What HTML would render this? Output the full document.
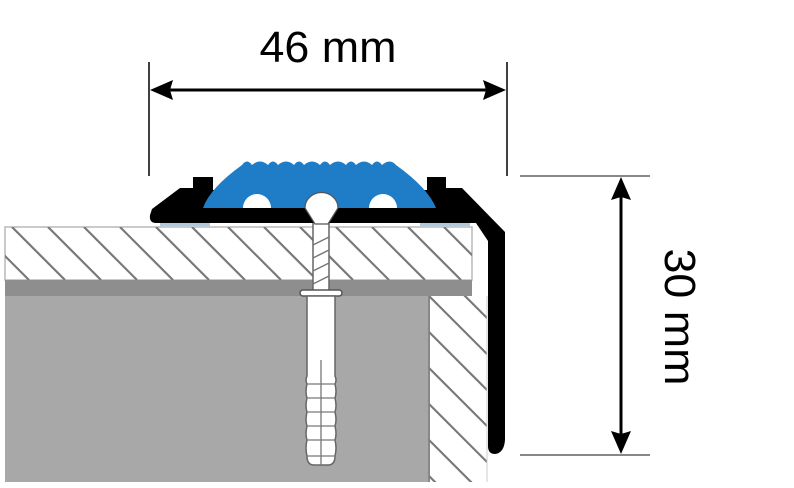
<!DOCTYPE html>
<html><head><meta charset="utf-8"><style>
html,body{margin:0;padding:0;background:#fff;width:794px;height:488px;overflow:hidden;}
svg{display:block;}
text{font-family:"Liberation Sans",sans-serif;fill:#000;}
</style></head><body>
<svg width="794" height="488" viewBox="0 0 794 488" xmlns="http://www.w3.org/2000/svg">
<defs>
<clipPath id="cb"><rect x="5" y="227" width="467" height="53"/></clipPath>
<clipPath id="cr"><rect x="429" y="296" width="58" height="186"/></clipPath>
</defs>
<rect x="5" y="227" width="467" height="53" fill="#fff" stroke="#b8b8b8" stroke-width="1.5"/>
<g clip-path="url(#cb)" stroke="#7a7a7a" stroke-width="2.2">
<line x1="-60" y1="227" x2="-7" y2="280"/>
<line x1="-24" y1="227" x2="29" y2="280"/>
<line x1="12" y1="227" x2="65" y2="280"/>
<line x1="48" y1="227" x2="101" y2="280"/>
<line x1="84" y1="227" x2="137" y2="280"/>
<line x1="120" y1="227" x2="173" y2="280"/>
<line x1="156" y1="227" x2="209" y2="280"/>
<line x1="192" y1="227" x2="245" y2="280"/>
<line x1="228" y1="227" x2="281" y2="280"/>
<line x1="264" y1="227" x2="317" y2="280"/>
<line x1="300" y1="227" x2="353" y2="280"/>
<line x1="336" y1="227" x2="389" y2="280"/>
<line x1="372" y1="227" x2="425" y2="280"/>
<line x1="408" y1="227" x2="461" y2="280"/>
<line x1="444" y1="227" x2="497" y2="280"/>
</g>
<rect x="5" y="280" width="467" height="16" fill="#8e8e8e"/>
<rect x="5" y="296" width="424" height="186" fill="#a8a8a8"/>
<rect x="429" y="296" width="58" height="186" fill="#fff"/>
<line x1="429" y1="296" x2="429" y2="482" stroke="#888" stroke-width="2"/>
<g clip-path="url(#cr)" stroke="#7a7a7a" stroke-width="2.2">
<line x1="429" y1="260" x2="520" y2="351"/>
<line x1="429" y1="296" x2="520" y2="387"/>
<line x1="429" y1="332" x2="520" y2="423"/>
<line x1="429" y1="368" x2="520" y2="459"/>
<line x1="429" y1="404" x2="520" y2="495"/>
<line x1="429" y1="440" x2="520" y2="531"/>
<line x1="429" y1="476" x2="520" y2="567"/>
</g>
<line x1="487" y1="296" x2="487" y2="482" stroke="#ccc" stroke-width="1"/>
<rect x="160" y="222" width="50" height="4" fill="#a9cbe6"/>
<rect x="420" y="222" width="50" height="4" fill="#a9cbe6"/>
<rect x="313" y="222" width="16" height="70" fill="#fff" stroke="#666" stroke-width="1.5"/>
<g stroke="#777" stroke-width="1.5">
<line x1="313" y1="245" x2="329" y2="237"/><line x1="313" y1="258" x2="329" y2="250"/>
<line x1="313" y1="271" x2="329" y2="263"/><line x1="313" y1="284" x2="329" y2="276"/>
</g>
<rect x="300" y="290" width="42" height="6" rx="3" fill="#fff" stroke="#555" stroke-width="1.5"/>
<path d="M307 296 H335 V376 Q337 380 335 384 Q337 392 335 398 Q337 406 335 412 Q337 420 335 426 Q337 434 335 440 Q337 448 335 456 Q335 465 328 465 H314 Q307 465 307 456 Q305 448 307 440 Q305 434 307 426 Q305 420 307 412 Q305 406 307 398 Q305 392 307 384 Q305 380 307 376 Z" fill="#fff" stroke="#666" stroke-width="1.5"/>
<g stroke="#777" stroke-width="1.3" fill="none">
<line x1="321" y1="360" x2="321" y2="465"/>
<line x1="307" y1="384" x2="335" y2="384"/><line x1="307" y1="398" x2="335" y2="398"/>
<line x1="307" y1="412" x2="335" y2="412"/><line x1="307" y1="426" x2="335" y2="426"/>
<line x1="307" y1="440" x2="335" y2="440"/><line x1="307" y1="456" x2="335" y2="456"/>
</g>
<path d="M152 209 L180 188 H193 V177 H213 V190 H427 V177 H446 V188 H462 L505 232 V440 Q504 453 495 454 Q488 454 488 446 V241 L476 223 H156 Q149 223 150 215 Z" fill="#000"/>
<path d="M203 208 Q210 188 242 165 Q247 158 252 165 Q260 158 268 165 Q273 158 278 165 Q286 158 294 165 Q299 158 304 165 Q312 158 320 165 Q325 158 330 165 Q338 158 346 165 Q351 158 356 165 Q364 158 372 165 Q377 158 382 165 Q390 158 396 165 Q428 188 436 208 Z" fill="#1f7dc8"/>
<path d="M243 208 A14 14 0 0 1 271 208 Z" fill="#fff"/>
<path d="M369 208 A14 14 0 0 1 397 208 Z" fill="#fff"/>
<path d="M305 208 A16 15 0 0 1 338 208 L328 224 H315 Z" fill="#fff" stroke="#555" stroke-width="1.2"/>
<line x1="149" y1="62" x2="149" y2="176" stroke="#000" stroke-width="1.5"/>
<line x1="507" y1="62" x2="507" y2="176" stroke="#000" stroke-width="1.5"/>
<line x1="165" y1="90" x2="491" y2="90" stroke="#000" stroke-width="3"/>
<path d="M150 90 L173 80 L170 90 L173 100 Z" fill="#000"/>
<path d="M506 90 L483 80 L486 90 L483 100 Z" fill="#000"/>
<text x="328" y="62" font-size="44" text-anchor="middle" textLength="137" lengthAdjust="spacingAndGlyphs">46 mm</text>
<line x1="520" y1="176" x2="650" y2="176" stroke="#888" stroke-width="2"/>
<line x1="520" y1="455" x2="650" y2="455" stroke="#888" stroke-width="2"/>
<line x1="621" y1="192" x2="621" y2="440" stroke="#000" stroke-width="3"/>
<path d="M621 177 L611 200 L621 197 L631 200 Z" fill="#000"/>
<path d="M621 454 L611 431 L621 434 L631 431 Z" fill="#000"/>
<text transform="translate(665,317) rotate(90)" font-size="44" text-anchor="middle" textLength="137" lengthAdjust="spacingAndGlyphs">30 mm</text>
</svg>
</body></html>
